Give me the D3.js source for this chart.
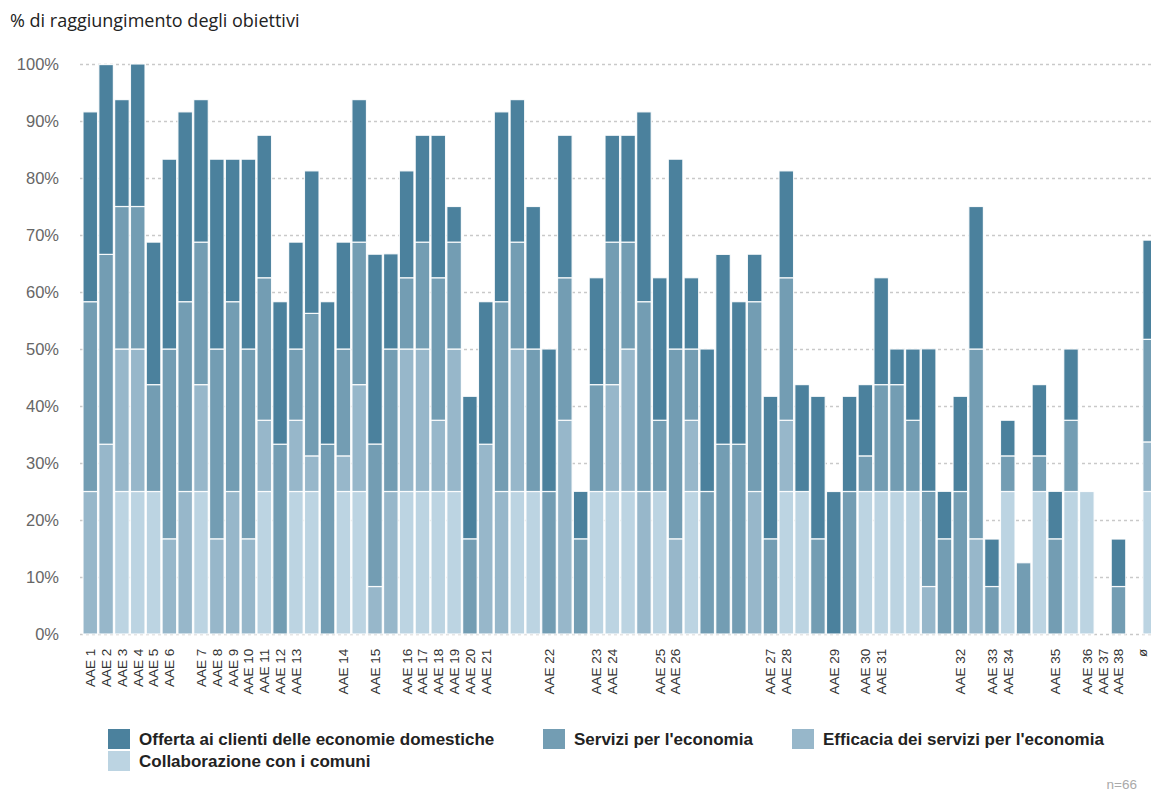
<!DOCTYPE html>
<html>
<head>
<meta charset="utf-8">
<script src="https://cdn.jsdelivr.net/npm/d3@7/dist/d3.min.js"></script>
<style>
  html, body { margin: 0; padding: 0; background: #fff; }
  svg { display: block; }
</style>
</head>
<body>
<div id="chart"></div>
<script>
// ---- Data (values in % of target reached) ----
const xLabels = [
  "AAE 1","AAE 2","AAE 3","AAE 4","AAE 5","AAE 6","","AAE 7","AAE 8","AAE 9",
  "AAE 10","AAE 11","AAE 12","AAE 13","","","AAE 14","","AAE 15","",
  "AAE 16","AAE 17","AAE 18","AAE 19","AAE 20","AAE 21","","","","AAE 22",
  "","","AAE 23","AAE 24","","","AAE 25","AAE 26","","",
  "","","","AAE 27","AAE 28","","","AAE 29","","AAE 30",
  "AAE 31","","","","","AAE 32","","AAE 33","AAE 34","",
  "","AAE 35","","AAE 36","AAE 37","AAE 38","","ø"
];
const collaborazione = [
  0,0,25,25,25,0,0,25,0,0,
  0,25,0,25,25,0,25,25,0,0,
  25,25,25,25,0,0,0,25,25,0,
  0,0,25,25,25,0,25,0,25,0,
  0,0,0,0,25,25,0,0,0,25,
  25,25,25,0,0,0,0,0,25,0,
  25,0,25,25,0,0,0,25
];
const efficacia = [
  25,33.3,25,25,0,16.7,25,18.75,16.7,25,
  16.7,12.5,0,12.5,6.25,0,6.25,18.75,8.33,25,
  25,25,12.5,25,0,33.3,25,25,0,0,
  37.5,0,0,18.75,25,25,0,16.7,12.5,0,
  0,0,25,0,12.5,0,0,0,0,0,
  0,0,0,8.33,0,0,16.7,0,0,0,
  0,0,0,0,0,0,0,8.7
];
const servizi = [
  33.3,33.3,25,25,18.75,33.3,33.3,25,33.3,33.3,
  33.3,25,33.3,12.5,25,33.3,18.75,25,25,25,
  12.5,18.75,25,18.75,16.7,0,33.3,18.75,25,25,
  25,16.7,18.75,25,18.75,33.3,12.5,33.3,12.5,25,
  33.3,33.3,33.3,16.7,25,0,16.7,0,25,6.25,
  18.75,18.75,12.5,16.7,16.7,25,33.3,8.33,6.25,12.5,
  6.25,16.7,12.5,0,0,8.33,0,18
];
const offerta = [
  33.3,33.3,18.75,25,25,33.3,33.3,25,33.3,25,
  33.3,25,25,18.75,25,25,18.75,25,33.3,16.7,
  18.75,18.75,25,6.25,25,25,33.3,25,25,25,
  25,8.33,18.75,18.75,18.75,33.3,25,33.3,12.5,25,
  33.3,25,8.33,25,18.75,18.75,25,25,16.7,12.5,
  18.75,6.25,12.5,25,8.33,16.7,25,8.33,6.25,0,
  12.5,8.33,12.5,0,0,8.33,0,17.4
];
const seriesNames = [
  "Collaborazione con i comuni",
  "Efficacia dei servizi per l'economia",
  "Servizi per l'economia",
  "Offerta ai clienti delle economie domestiche"
];
const seriesColors = ["#bcd4e2", "#97b7ca", "#739db3", "#4b819d"];
const yTicks = [0,10,20,30,40,50,60,70,80,90,100];

// ---- Build table ----
const keys = ["c","e","s","o"];
const table = xLabels.map((lab, i) => ({
  idx: i, c: collaborazione[i], e: efficacia[i], s: servizi[i], o: offerta[i]
}));

const W = 1151, H = 794;
const svg = d3.select("#chart").append("svg").attr("width", W).attr("height", H);

const x = d3.scaleBand().domain(d3.range(xLabels.length))
  .range([83, 83 + 15.8 * xLabels.length]).paddingInner(0.08).paddingOuter(0);
const y = d3.scaleLinear().domain([0, 100]).range([634, 64]);

// title
svg.append("text").attr("x", 10).attr("y", 27)
  .attr("font-family", "'Open Sans', 'Noto Sans', sans-serif")
  .attr("font-size", 18).attr("fill", "#222")
  .text("% di raggiungimento degli obiettivi");

// grid
const grid = svg.append("g");
grid.selectAll("line").data(yTicks).join("line")
  .attr("x1", 80).attr("x2", W)
  .attr("y1", d => y(d) + 0.5).attr("y2", d => y(d) + 0.5)
  .attr("stroke", "#c9c9c9").attr("stroke-width", 1.3)
  .attr("stroke-dasharray", "3,3");

// y axis labels
const yAxis = d3.axisLeft(y).tickValues(yTicks).tickSize(0).tickPadding(0)
  .tickFormat(d => d + "%");
const gy = svg.append("g").attr("transform", "translate(59,0)").call(yAxis);
gy.select(".domain").remove();
gy.selectAll("text").attr("font-family", "'Liberation Sans', Arial, sans-serif")
  .attr("font-size", 16.5).attr("fill", "#666");

// stacked bars
const stack = d3.stack().keys(keys);
const layers = stack(table);
svg.append("g").selectAll("g").data(layers).join("g")
  .attr("fill", (d, i) => seriesColors[i])
  .selectAll("rect").data(d => d).join("rect")
  .attr("x", d => x(d.data.idx))
  .attr("width", x.bandwidth())
  .attr("y", d => y(d[1]))
  .attr("height", d => Math.max(0, y(d[0]) - y(d[1])))
  .attr("stroke", "#fff").attr("stroke-width", 1.2)
  .attr("stroke-opacity", d => (d[1] - d[0]) > 0 ? 0.9 : 0);

// x axis labels
const xAxis = d3.axisBottom(x).tickSize(0).tickFormat(i => xLabels[i]);
const gx = svg.append("g").attr("transform", "translate(0,646)").call(xAxis);
gx.select(".domain").remove();
gx.selectAll("text")
  .attr("font-family", "'Liberation Sans', Arial, sans-serif")
  .attr("font-size", 13.5).attr("fill", "#333")
  .attr("transform", i => i === xLabels.length - 1 ? "translate(-8,0) rotate(-90)" : "rotate(-90)")
  .attr("text-anchor", "end")
  .attr("x", 0).attr("y", 0).attr("dy", "0.36em")
  .attr("dx", "-0.2em");

// legend
const legendItems = [
  {name: seriesNames[3], color: seriesColors[3], lx: 108, ly: 729},
  {name: seriesNames[2], color: seriesColors[2], lx: 543, ly: 729},
  {name: seriesNames[1], color: seriesColors[1], lx: 792, ly: 729},
  {name: seriesNames[0], color: seriesColors[0], lx: 108, ly: 751}
];
const lg = svg.append("g").selectAll("g").data(legendItems).join("g")
  .attr("transform", d => `translate(${d.lx},${d.ly})`);
lg.append("rect").attr("width", 22).attr("height", 20).attr("fill", d => d.color);
lg.append("text").attr("x", 31).attr("y", 16)
  .attr("font-family", "'Liberation Sans', Arial, sans-serif")
  .attr("font-weight", "bold").attr("font-size", 17).attr("fill", "#222")
  .text(d => d.name);

// note
svg.append("text").attr("x", 1137).attr("y", 789).attr("text-anchor", "end")
  .attr("font-family", "'Liberation Sans', Arial, sans-serif")
  .attr("font-size", 13.5).attr("fill", "#aaa").text("n=66");
</script>
</body>
</html>
